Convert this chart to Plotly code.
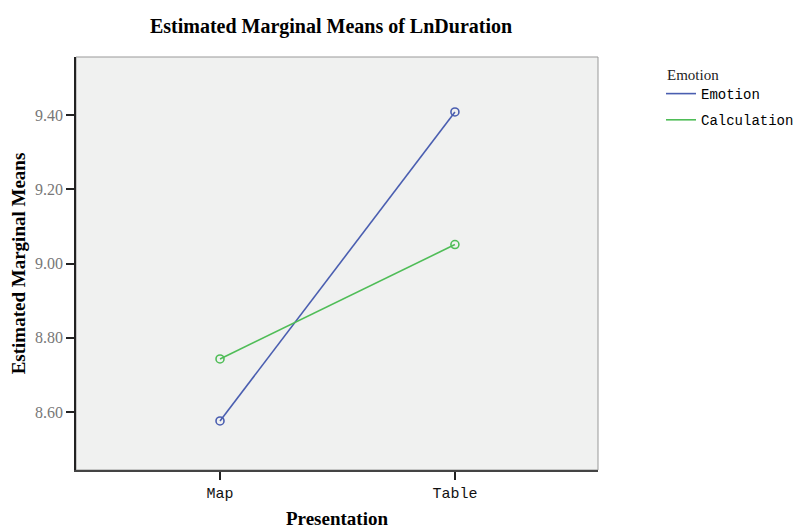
import plotly.graph_objects as go

presentation = ["Map", "Table"]
emotion_vals = [8.576, 9.408]
calculation_vals = [8.743, 9.051]
y_ticks = [8.60, 8.80, 9.00, 9.20, 9.40]
y_tick_labels = ["8.60", "8.80", "9.00", "9.20", "9.40"]

blue = "#4a5eb0"
green = "#4fbd57"

# page has an 8px body margin, so the figure is offset by 8px
W, H = 793, 521
L, T, R, B = 68, 49, 590, 462

fig = go.Figure()
for name, vals, col in [("Emotion", emotion_vals, blue), ("Calculation", calculation_vals, green)]:
    fig.add_trace(go.Scatter(
        x=presentation, y=vals, name=name, mode="lines+markers", showlegend=False,
        line=dict(color=col, width=1.6),
        marker=dict(symbol="circle-open", size=8, color=col, line=dict(width=1.6)),
    ))
for name, col in [("Emotion", blue), ("Calculation", green)]:
    fig.add_trace(go.Scatter(
        x=[None], y=[None], name=name, mode="lines", legendgroup=name,
        line=dict(color=col, width=1.6),
    ))

fig.update_layout(
    width=W, height=H,
    paper_bgcolor="white", plot_bgcolor="#f0f1f0",
    margin=dict(l=L, r=W - R, t=T, b=H - B, autoexpand=False),
    title=dict(text="<b>Estimated Marginal Means of LnDuration</b>",
               x=(331 - 8) / W, xanchor="center", y=1 - (26 - 8) / H, yanchor="middle",
               font=dict(family="Liberation Serif", size=20, color="black")),
    showlegend=True,
    legend=dict(x=(653 - L) / (R - L), y=(B - 70) / (B - T), yanchor="top", xanchor="left",
                font=dict(family="Liberation Mono", size=14, color="black"),
                bgcolor="rgba(0,0,0,0)", traceorder="grouped", tracegroupgap=5),
    annotations=[dict(text="Emotion", xref="paper", yref="paper",
                      x=(657 - L) / (R - L), y=(B - 67) / (B - T),
                      xanchor="left", yanchor="middle", showarrow=False,
                      font=dict(family="Liberation Serif", size=15, color="#222"))],
    xaxis=dict(type="category", range=[-0.613, 1.609], automargin=False,
               showline=True, linecolor="#444", linewidth=1.5, mirror=False,
               ticks="outside", ticklen=8, tickcolor="#222", tickwidth=1.5,
               showgrid=False, zeroline=False,
               tickfont=dict(family="Liberation Mono", size=15, color="#111"),
               title=dict(text="<b>Presentation</b>", standoff=10,
                          font=dict(family="Liberation Serif", size=19, color="black"))),
    yaxis=dict(range=[8.444, 9.556], tickvals=y_ticks, ticktext=y_tick_labels, automargin=False,
               showline=True, linecolor="#222", linewidth=1.5,
               ticks="outside", ticklen=8, tickcolor="#222", tickwidth=1.5,
               showgrid=False, zeroline=False,
               tickfont=dict(family="Liberation Serif", size=16, color="#777"),
               title=dict(text="<b>Estimated Marginal Means</b>", standoff=6,
                          font=dict(family="Liberation Serif", size=19, color="black"))),
)
fig.add_shape(type="rect", xref="paper", yref="paper", x0=0, y0=0, x1=1, y1=1,
              line=dict(color="#999", width=1), layer="below")

fig.write_html("out.html")
